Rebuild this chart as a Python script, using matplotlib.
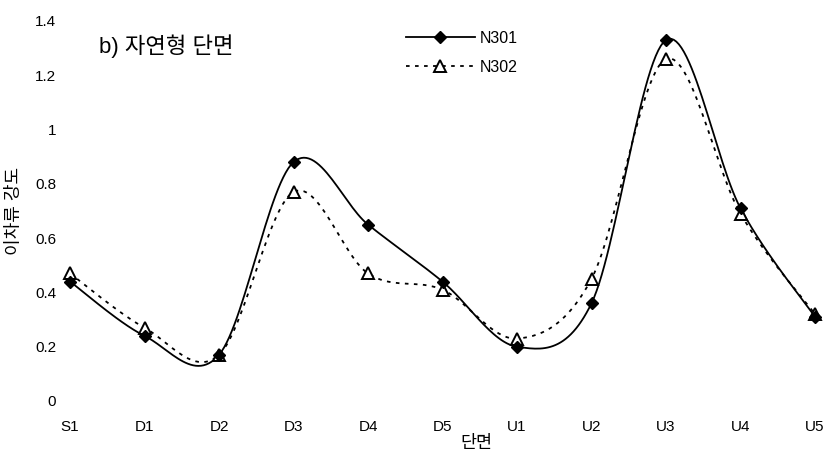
import numpy as np
import matplotlib
matplotlib.use("Agg")
import matplotlib.pyplot as plt

plt.rcParams['font.family'] = ['Liberation Sans', 'Noto Sans CJK KR', 'DejaVu Sans']

categories = ["S1", "D1", "D2", "D3", "D4", "D5", "U1", "U2", "U3", "U4", "U5"]
n301 = [0.44, 0.24, 0.17, 0.88, 0.65, 0.44, 0.20, 0.36, 1.33, 0.71, 0.31]
n302 = [0.47, 0.27, 0.17, 0.77, 0.47, 0.41, 0.23, 0.45, 1.26, 0.69, 0.32]
yticks = [0, 0.2, 0.4, 0.6, 0.8, 1, 1.2, 1.4]
ytick_labels = ["0", "0.2", "0.4", "0.6", "0.8", "1", "1.2", "1.4"]


def smooth(xs, ys, n=30):
    """Excel-like smoothed line (Catmull-Rom via cubic Bezier)."""
    xs = np.asarray(xs, float)
    ys = np.asarray(ys, float)
    P = np.column_stack([xs, ys])
    out = []
    for i in range(len(P) - 1):
        p0 = P[i - 1] if i > 0 else P[i]
        p1 = P[i]
        p2 = P[i + 1]
        p3 = P[i + 2] if i + 2 < len(P) else P[i + 1]
        c1 = p1 + (p2 - p0) / 6.0
        c2 = p2 - (p3 - p1) / 6.0
        t = np.linspace(0, 1, n)[:, None]
        seg = ((1 - t) ** 3) * p1 + 3 * ((1 - t) ** 2) * t * c1 + 3 * (1 - t) * t ** 2 * c2 + t ** 3 * p2
        out.append(seg if i == 0 else seg[1:])
    s = np.vstack(out)
    return s[:, 0], s[:, 1]


W, H = 830, 457
L, R, B, T = 70, 815, 401, 21
fig = plt.figure(figsize=(W / 100, H / 100), dpi=100)
ax = fig.add_axes([L / W, (H - B) / H, (R - L) / W, (B - T) / H])

x = np.arange(len(categories))
sx1, sy1 = smooth(x, n301)
sx2, sy2 = smooth(x, n302)

ax.plot(sx2, sy2, color='black', lw=1.3, linestyle=(0, (2, 3)), clip_on=False)
ax.plot(sx1, sy1, color='black', lw=1.3, clip_on=False)
ax.plot(x, n302, linestyle='none', marker='^', markersize=8, markerfacecolor='white',
        markeredgecolor='black', markeredgewidth=1.4, clip_on=False)
ax.plot(x, n301, linestyle='none', marker='D', markersize=6.5, color='black', clip_on=False)

# legend proxies
h1, = ax.plot([], [], color='black', lw=1.3, marker='D', markersize=6.5)
h2, = ax.plot([], [], color='black', lw=1.3, linestyle=(0, (2, 3)), marker='^', markersize=8,
              markerfacecolor='white', markeredgecolor='black', markeredgewidth=1.4)
ax.legend([h1, h2], ["N301", "N302"], loc='upper left',
          bbox_to_anchor=((406 - L) / (R - L), (B - 31) / (B - T)),
          frameon=False, fontsize=11.5, handlelength=4.3, handletextpad=0.3,
          labelspacing=0.85, borderaxespad=0, borderpad=0)

ax.set_xlim(0, len(categories) - 1)
ax.set_ylim(0, 1.4)
ax.set_xticks(x)
ax.set_xticklabels(categories, fontsize=11)
ax.set_yticks(yticks)
ax.set_yticklabels(ytick_labels, fontsize=11)
ax.tick_params(axis='both', length=0)
ax.tick_params(axis='x', pad=14)
ax.tick_params(axis='y', pad=10)
for s in ax.spines.values():
    s.set_visible(False)

ax.set_xlabel("단면", fontsize=12.5)
ax.xaxis.set_label_coords((476 - L) / (R - L), -(435 - B) / (B - T))
ax.set_ylabel("이차류 강도", fontsize=13)
ax.yaxis.set_label_coords(-(L - 23) / (R - L), 0.5)

ax.text((99 - L) / (R - L), (B - 46) / (B - T), "b) 자연형 단면", transform=ax.transAxes,
        fontsize=16, ha='left', va='center')

fig.savefig("out.png", dpi=100)
